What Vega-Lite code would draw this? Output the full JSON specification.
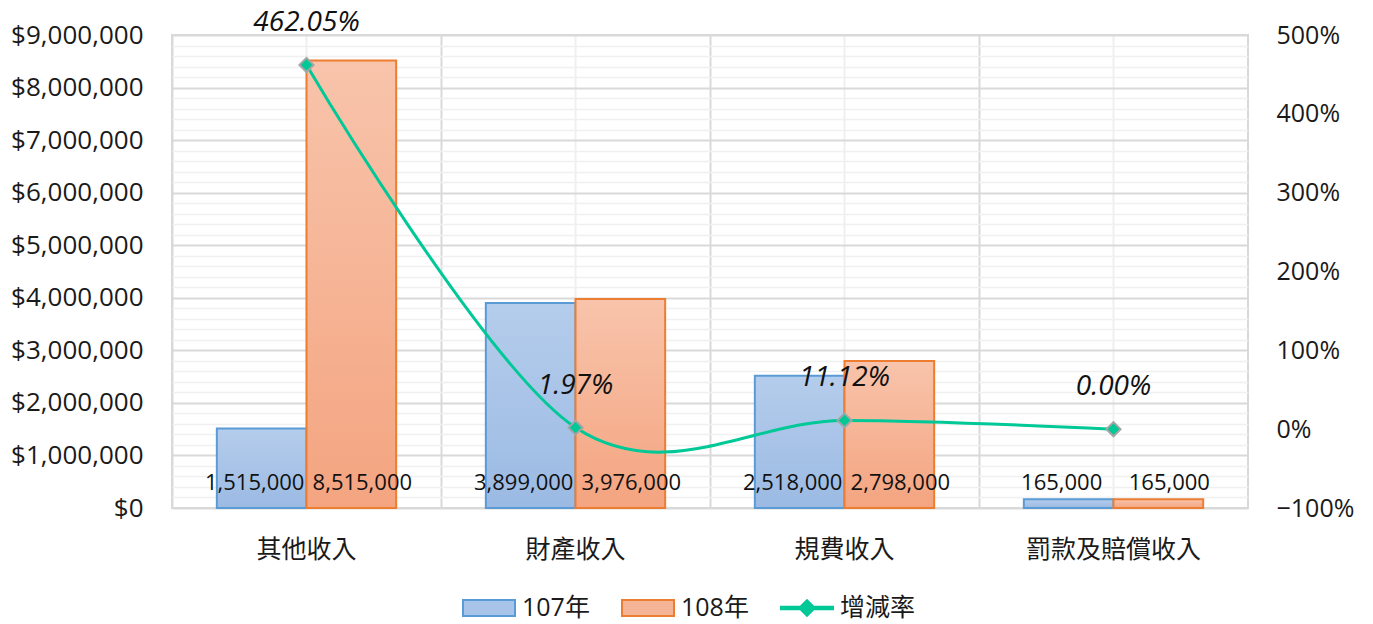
{
  "$schema": "https://vega.github.io/schema/vega-lite/v6.json",
  "autosize": "none",
  "width": 1076,
  "height": 473,
  "padding": {"left": 172, "top": 35, "right": 125, "bottom": 116},
  "background": "white",
  "config": {
    "font": "Open Sans, Noto Sans CJK TC",
    "view": {"stroke": "#d9d9d9", "strokeWidth": 2},
    "axis": {"labelColor": "#1a1a1a", "labelFont": "Open Sans, Noto Sans CJK TC"},
    "legend": {"labelColor": "#1a1a1a", "labelFont": "Open Sans, Noto Sans CJK TC"}
  },
  "datasets": {
    "bars": [
      {"category": "其他收入", "year": "107年", "amount": 1515000},
      {"category": "其他收入", "year": "108年", "amount": 8515000},
      {"category": "財產收入", "year": "107年", "amount": 3899000},
      {"category": "財產收入", "year": "108年", "amount": 3976000},
      {"category": "規費收入", "year": "107年", "amount": 2518000},
      {"category": "規費收入", "year": "108年", "amount": 2798000},
      {"category": "罰款及賠償收入", "year": "107年", "amount": 165000},
      {"category": "罰款及賠償收入", "year": "108年", "amount": 165000}
    ],
    "rates": [
      {"category": "其他收入", "rate": 4.6205},
      {"category": "財產收入", "rate": 0.0197},
      {"category": "規費收入", "rate": 0.1112},
      {"category": "罰款及賠償收入", "rate": 0}
    ]
  },
  "layer": [
    {
      "data": {"name": "bars"},
      "encoding": {
        "x": {
          "field": "category", "type": "nominal",
          "sort": ["其他收入", "財產收入", "規費收入", "罰款及賠償收入"],
          "scale": {"paddingInner": 0, "paddingOuter": 0},
          "axis": {
            "title": null, "labelAngle": 0, "labelFontSize": 25, "labelPadding": 29,
            "labelFont": "Noto Sans CJK TC",
            "ticks": false, "domain": false, "grid": true, "bandPosition": 0,
            "gridColor": "#d9d9d9", "gridWidth": 2
          }
        },
        "xOffset": {"field": "year", "type": "nominal", "sort": ["107年", "108年"], "scale": {"paddingInner": 0, "paddingOuter": 0.5}}
      },
      "layer": [
        {
          "transform": [{"filter": "datum.year === '107年'"}],
          "mark": {
            "type": "bar", "strokeWidth": 2,
            "fill": {"gradient": "linear", "x1": 0, "y1": 0, "x2": 0, "y2": 1,
              "stops": [{"offset": 0, "color": "#b5cdec"}, {"offset": 1, "color": "#9bbae3"}]}
          },
          "encoding": {
            "y": {
              "field": "amount", "type": "quantitative",
              "scale": {"domain": [0, 9000000], "nice": false, "zero": true},
              "axis": {
                "title": null, "tickCount": 45, "labelOverlap": false, "labelFlush": false,
                "labelFontSize": 26, "labelPadding": 29, "ticks": false, "domain": false,
                "labelExpr": "datum.value % 1000000 === 0 ? '$' + format(datum.value, ',') : ''",
                "gridColor": {"condition": {"test": "datum.value % 1000000 === 0", "value": "#d9d9d9"}, "value": "#f0f0f0"},
                "gridWidth": {"condition": {"test": "datum.value % 1000000 === 0", "value": 2}, "value": 1.5}
              }
            },
            "stroke": {
              "field": "year", "type": "nominal",
              "scale": {"domain": ["107年", "108年", "增減率"], "range": ["#5b9bd5", "#ed7d31", "#00c896"]},
              "legend": {
                "title": null, "orient": "none", "direction": "horizontal",
                "legendX": 290, "legendY": 546, "padding": 0,
                "labelFontSize": 25, "symbolSize": 2704, "symbolStrokeWidth": 2,
                "columnPadding": 28, "labelOffset": 6,
                "encoding": {
                  "symbols": {
                    "shape": {"condition": {"test": "datum.label === '增減率'", "value": "M-1,-0.05H1V0.05H-1Z M0,-0.3L0.3,0L0,0.3L-0.3,0Z"}, "value": "M-1,-0.31H1V0.31H-1Z"},
                    "fill": {"condition": [
                      {"test": "datum.label === '107年'", "value": "#a8c4e8"},
                      {"test": "datum.label === '108年'", "value": "#f6b496"}
                    ], "value": "#00c896"}
                  }
                }
              }
            }
          }
        },
        {
          "transform": [{"filter": "datum.year === '108年'"}],
          "mark": {
            "type": "bar", "strokeWidth": 2,
            "fill": {"gradient": "linear", "x1": 0, "y1": 0, "x2": 0, "y2": 1,
              "stops": [{"offset": 0, "color": "#f8c4ab"}, {"offset": 1, "color": "#f4a480"}]}
          },
          "encoding": {
            "y": {"field": "amount", "type": "quantitative"},
            "stroke": {"field": "year", "type": "nominal"}
          }
        },
        {
          "transform": [{"filter": "datum.year === '107年'"}],
          "mark": {"type": "text", "align": "center", "baseline": "middle", "dx": -7, "dy": -25, "fontSize": 22, "color": "#111111"},
          "encoding": {
            "y": {"datum": 0, "type": "quantitative"},
            "text": {"field": "amount", "type": "quantitative", "format": ","}
          }
        },
        {
          "transform": [{"filter": "datum.year === '108年'"}],
          "mark": {"type": "text", "align": "center", "baseline": "middle", "dx": 11, "dy": -25, "fontSize": 22, "color": "#111111"},
          "encoding": {
            "y": {"datum": 0, "type": "quantitative"},
            "text": {"field": "amount", "type": "quantitative", "format": ","}
          }
        }
      ]
    },
    {
      "data": {"name": "rates"},
      "encoding": {
        "x": {
          "field": "category", "type": "nominal",
          "sort": ["其他收入", "財產收入", "規費收入", "罰款及賠償收入"],
          "axis": {
            "title": null, "labels": false, "ticks": false, "domain": false,
            "grid": true, "bandPosition": 0.5, "gridColor": "#f0f0f0", "gridWidth": 2
          }
        },
        "y": {
          "field": "rate", "type": "quantitative",
          "scale": {"domain": [-1, 5], "nice": false},
          "axis": {
            "orient": "right", "title": null, "values": [-1, 0, 1, 2, 3, 4, 5], "format": ".0%",
            "grid": false, "ticks": false, "domain": false, "labelFontSize": 25, "labelPadding": 28,
            "labelFlush": false, "labelOverlap": false
          }
        }
      },
      "layer": [
        {
          "mark": {"type": "line", "interpolate": "cardinal", "tension": 0, "strokeWidth": 3},
          "encoding": {
            "stroke": {"datum": "增減率", "type": "nominal"}
          }
        },
        {
          "mark": {"type": "point", "shape": "diamond", "filled": true, "fill": "#00c896", "stroke": "#a5a5a5", "strokeWidth": 2, "size": 200, "opacity": 1}
        },
        {
          "mark": {"type": "text", "fontStyle": "italic", "fontSize": 28, "dy": -42, "baseline": "middle", "color": "#111111"},
          "encoding": {
            "text": {"field": "rate", "type": "quantitative", "format": ".2%"}
          }
        }
      ]
    }
  ],
  "resolve": {"scale": {"y": "independent"}, "axis": {"x": "independent"}}
}
